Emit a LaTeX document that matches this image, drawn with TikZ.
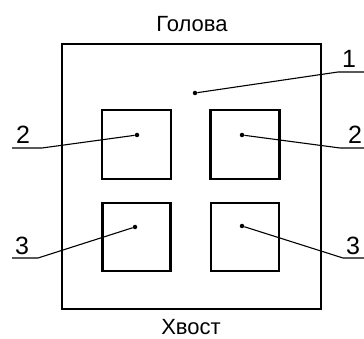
\documentclass[tikz,border=0pt]{standalone}
\usepackage{fontspec}
\setmainfont{Liberation Sans}
\usetikzlibrary{positioning,calc}

\begin{document}
\begin{tikzpicture}[x=1pt,y=-1pt,line join=miter,
  frame/.style={draw,line width=2.4pt,inner sep=0pt},
  leader/.style={line width=1.1pt},
  pin/.style={circle,fill,inner sep=0pt,minimum size=4.5pt},
  num/.style={font=\fontsize{25}{25}\selectfont,inner sep=0pt,anchor=base},
  word/.style={font=\fontsize{22}{22}\selectfont,inner sep=0pt,anchor=base}]
\useasboundingbox (0,0) rectangle (364,339);
%%
\node (body) at (191.5,176.5) [frame,minimum width=259pt,minimum height=265pt] {};
  \node (c2l) at (136.5,144.5) [frame,minimum size=69pt] {};
  \node (c2r) at (245,144.5) [frame,minimum size=69pt] {};
  \node (c3l) at (136.5,237) [frame,minimum size=68pt] {};
  \node (c3r) at (245,237) [frame,minimum size=68pt] {};
  \node (head) at (192,32) [word] {Голова};
  \node (tail) at (191,334) [word] {Хвост};
%
  \node (p1) at (195,93) [pin] {};
  \node (p2l) at (137,135) [pin] {};
  \node (p2r) at (242,135) [pin] {};
  \node (p3l) at (135,227) [pin] {};
  \node (p3r) at (242,226) [pin] {};
  \coordinate (k1) at (338,72);
  \coordinate (e1) at (364,72);
  \coordinate (k2l) at (42,148);
  \coordinate (e2l) at (12,148);
  \coordinate (k2r) at (340,148);
  \coordinate (e2r) at (364,148);
  \coordinate (k3l) at (38,258);
  \coordinate (e3l) at (12,258);
  \coordinate (k3r) at (343,258);
  \coordinate (e3r) at (364,258);
  \draw [leader] (p1) -- (k1) -- (e1);
  \draw [leader] (p2l) -- (k2l) -- (e2l);
  \draw [leader] (p2r) -- (k2r) -- (e2r);
  \draw [leader] (p3l) -- (k3l) -- (e3l);
  \draw [leader] (p3r) -- (k3r) -- (e3r);
  \node (n1) at (349,68) [num] {1};
  \node (n2l) at (23,144) [num] {2};
  \node (n2r) at (355,144) [num] {2};
  \node (n3l) at (22,254) [num] {3};
  \node (n3r) at (353,254) [num] {3};
%
\end{tikzpicture}
\end{document}
